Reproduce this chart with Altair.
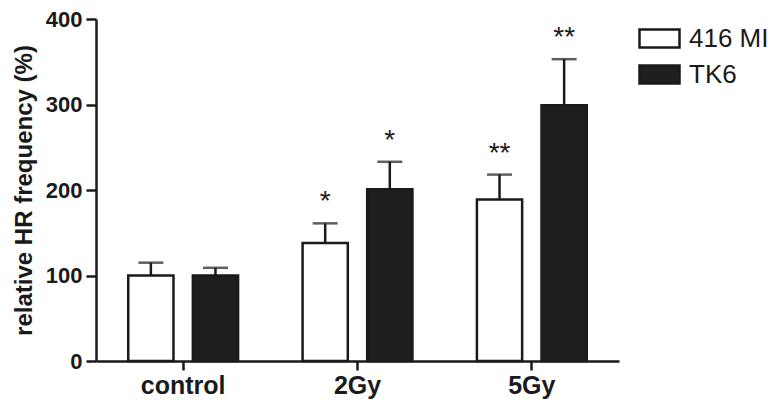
import altair as alt
import pandas as pd

categories = ["control", "2Gy", "5Gy"]
series = ["416 MI", "TK6"]
mi_mean = [100, 138, 189]
mi_err = [115, 161, 218]
tk6_mean = [100, 201, 299]
tk6_err = [109, 233, 353]
mi_stars = ["", "*", "**"]
tk6_stars = ["", "*", "**"]

rows = []
for i, c in enumerate(categories):
    rows.append({"cat": c, "series": series[0], "mean": mi_mean[i], "err": mi_err[i], "star": mi_stars[i]})
    rows.append({"cat": c, "series": series[1], "mean": tk6_mean[i], "err": tk6_err[i], "star": tk6_stars[i]})
df = pd.DataFrame(rows)

FONT = "Liberation Sans"
INK = "#1a1a1a"

x_enc = alt.X("cat:N", sort=categories,
              scale=alt.Scale(paddingInner=0.37, paddingOuter=0.185),
              axis=alt.Axis(title=None, labelFontSize=25, labelFontWeight="bold", labelFont=FONT,
                            labelColor=INK, tickSize=9, tickWidth=2.5, tickColor=INK,
                            domainWidth=2.5, domainColor=INK, labelPadding=3, labelAngle=0))
xo_enc = alt.XOffset("series:N", sort=series, scale=alt.Scale(paddingInner=0.3, paddingOuter=0))
y_scale = alt.Scale(domain=[0, 400], nice=False)

bars = alt.Chart(df).mark_bar(stroke=INK, strokeWidth=2.5).encode(
    x=x_enc,
    xOffset=xo_enc,
    y=alt.Y("mean:Q", scale=y_scale,
            axis=alt.Axis(title="relative HR frequency (%)", values=[0, 100, 200, 300, 400],
                          grid=False, labelFontSize=22, labelFontWeight="bold", labelFont=FONT,
                          labelColor=INK, tickSize=10, tickWidth=2.5, tickColor=INK,
                          domainWidth=2.5, domainColor=INK, labelPadding=4,
                          titleFontSize=24, titleFontWeight="bold", titleFont=FONT,
                          titleColor=INK, titlePadding=9)),
    fill=alt.Fill("series:N", sort=series,
                  scale=alt.Scale(domain=series, range=["white", "#1f1f1f"]),
                  legend=alt.Legend(title=None, orient="none", legendX=542, legendY=-2,
                                    symbolType="M-1,-0.45L1,-0.45L1,0.45L-1,0.45Z",
                                    symbolSize=1600, symbolStrokeColor=INK,
                                    symbolStrokeWidth=2.5, labelFontSize=26, labelFont=FONT,
                                    labelColor=INK, labelOffset=8, padding=0, rowPadding=0)),
)

rules = alt.Chart(df).mark_rule(color=INK, strokeWidth=2.5).encode(
    x=alt.X("cat:N", sort=categories), xOffset=xo_enc,
    y=alt.Y("mean:Q", scale=y_scale), y2="err:Q")

caps = alt.Chart(df).mark_tick(color=INK, thickness=2.5, size=25).encode(
    x=alt.X("cat:N", sort=categories), xOffset=xo_enc,
    y=alt.Y("err:Q", scale=y_scale))

stars = alt.Chart(df).mark_text(fontSize=28, font=FONT, color=INK, dy=-13, baseline="alphabetic").encode(
    x=alt.X("cat:N", sort=categories), xOffset=xo_enc,
    y=alt.Y("err:Q", scale=y_scale), text="star:N")

chart = alt.layer(bars, rules, caps, stars).properties(
    width=523, height=342,
    autosize=alt.AutoSizeParams(type="none"),
    padding={"left": 88, "top": 11, "right": 157, "bottom": 38},
    background="white",
).configure_view(stroke=None)

chart.save("out.html", embed_options={"renderer": "svg", "actions": False})
